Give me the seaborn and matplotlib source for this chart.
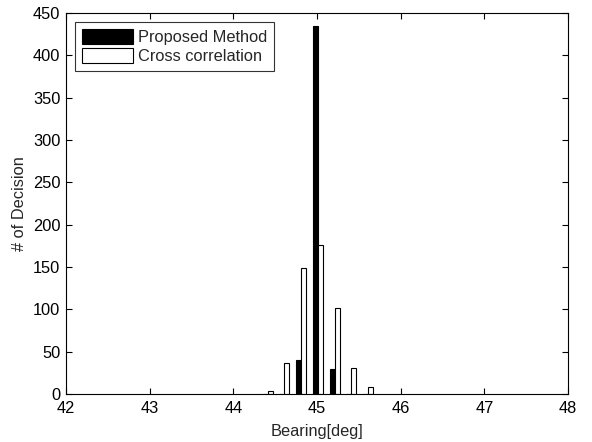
import matplotlib
matplotlib.use("Agg")
import matplotlib.pyplot as plt
import seaborn as sns
import pandas as pd

bins = [44.41, 44.61, 44.81, 45.01, 45.21, 45.41, 45.61]
proposed = [0, 0, 40, 435, 29, 0, 0]
cross = [3, 37, 149, 176, 101, 31, 8]
series_names = ["Proposed Method", "Cross correlation"]
xticks = [42, 43, 44, 45, 46, 47, 48]
yticks = list(range(0, 451, 50))

sns.set_style("white")
plt.rcParams["font.family"] = ["Liberation Sans", "DejaVu Sans"]
plt.rcParams["font.size"] = 11.8

df = pd.DataFrame({
    "bin": bins * 2,
    "count": proposed + cross,
    "method": [series_names[0]] * len(bins) + [series_names[1]] * len(bins),
})

fig = plt.figure(figsize=(5.92, 4.42), dpi=100)
ax = fig.add_axes([0.1115, 0.1086, 0.848, 0.862])

sns.barplot(data=df, x="bin", y="count", hue="method", native_scale=True,
            dodge=True, width=0.6, saturation=1,
            palette={series_names[0]: "black", series_names[1]: "white"},
            edgecolor="black", linewidth=0.8, ax=ax)

ax.set_xlim(42, 48)
ax.set_ylim(0, 450)
ax.set_xticks(xticks)
ax.set_xticklabels([str(t) for t in xticks])
ax.set_yticks(yticks)
ax.set_yticklabels([str(t) for t in yticks])
ax.set_xlabel("Bearing[deg]", labelpad=6)
ax.set_ylabel("# of Decision", labelpad=4)
for s in ax.spines.values():
    s.set_visible(True)
    s.set_color("black")
    s.set_linewidth(0.8)
ax.tick_params(direction="in", length=4, width=0.8, top=True, right=True,
               bottom=True, left=True, labelsize=11.8, colors="black")
ax.tick_params(axis="x", pad=5)
ax.tick_params(axis="y", pad=4)

leg = ax.legend(loc="upper left", frameon=True, fancybox=False,
                edgecolor="black", handlelength=3.1, handleheight=1.05,
                borderpad=0.42, labelspacing=0.18, handletextpad=0.3,
                borderaxespad=0.55, fontsize=11.8, title=None)
leg.get_frame().set_linewidth(0.8)

fig.savefig("out.png", dpi=100)
